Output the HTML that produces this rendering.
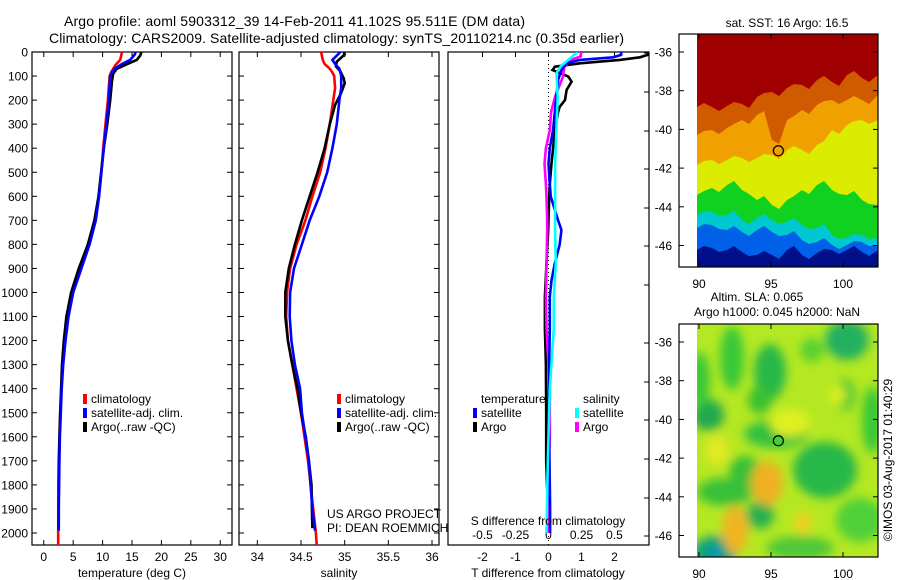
<!DOCTYPE html>
<html><head><meta charset="utf-8">
<style>
html,body{margin:0;padding:0;background:#fff;}
svg{display:block;font-family:"Liberation Sans",sans-serif;}
</style></head>
<body>
<svg id="chart" width="900" height="580" viewBox="0 0 900 580" xmlns="http://www.w3.org/2000/svg">
<defs>
<clipPath id="clipTop"><rect x="697" y="34" width="181" height="233"/></clipPath>
<clipPath id="clipBot"><rect x="697" y="324" width="181" height="233"/></clipPath>
<clipPath id="clipP3"><rect x="448" y="52" width="201" height="493"/></clipPath>
<filter id="blur" x="-50%" y="-50%" width="200%" height="200%"><feGaussianBlur stdDeviation="5"/></filter>
</defs>
</svg>
<script>
// ---------------- data ----------------
const tClimDepth = [0,33,54,82,100,200,300,400,500,600,700,800,900,1000,1100,1200,1300,1400,1500,1600,1700,1800,1900,2000,2050];
const tClim      = [13.3,13.0,12.2,11.5,11.2,10.9,10.5,10.1,9.8,9.35,8.7,7.5,6.1,4.8,4.1,3.6,3.2,3.0,2.8,2.7,2.6,2.55,2.5,2.45,2.45];
const tSatDepth  = [0,10,33,50,70,85,100,200,300,400,500,600,700,800,900,1000,1100,1200,1300,1400,1500,1600,1700,1800,1900,1990];
const tSat       = [15.6,15.5,14.7,13.3,12.0,11.6,11.3,11.05,10.65,10.2,9.8,9.4,8.85,7.8,6.4,5.0,4.2,3.7,3.3,3.05,2.9,2.75,2.65,2.6,2.55,2.55];
const tArgoDepth = [0,15,33,50,70,90,120,200,300,400,500,600,700,800,900,1000,1100,1200,1300,1400,1500,1600,1700,1800,1900,1988];
const tArgo      = [16.6,16.4,15.8,14.2,12.4,11.8,11.6,11.3,10.8,10.2,9.75,9.3,8.6,7.5,5.95,4.65,3.85,3.4,3.1,2.95,2.8,2.65,2.55,2.5,2.5,2.5];

const sClimDepth = [0,33,50,70,85,100,150,200,300,400,500,600,700,800,900,1000,1100,1200,1300,1400,1500,1600,1700,1800,1900,2000,2050];
const sClim      = [34.73,34.75,34.77,34.83,34.86,34.88,34.89,34.87,34.83,34.78,34.72,34.63,34.55,34.45,34.375,34.34,34.33,34.35,34.40,34.45,34.50,34.54,34.58,34.61,34.64,34.67,34.68];
const sSatDepth  = [0,15,33,50,70,100,150,200,300,400,500,600,700,800,900,1000,1100,1200,1300,1400,1500,1600,1700,1800,1900,1990];
const sSat       = [34.95,34.91,34.86,34.89,34.94,34.96,34.96,34.94,34.91,34.86,34.80,34.71,34.60,34.51,34.42,34.375,34.37,34.39,34.43,34.49,34.51,34.55,34.59,34.61,34.63,34.66];
const sArgoDepth = [0,10,20,40,60,80,110,130,170,220,300,400,500,600,700,800,900,1000,1100,1200,1300,1400,1500,1600,1700,1800,1900,1980];
const sArgo      = [34.99,35.0,34.97,34.91,34.90,34.95,34.99,35.0,34.96,34.89,34.83,34.77,34.69,34.60,34.51,34.43,34.36,34.32,34.32,34.35,34.40,34.46,34.50,34.555,34.59,34.62,34.625,34.63];

const dTSatDepth  = [0,12,22,33,47,75,116,186,250,324,400,463,550,602,700,740,800,879,950,1018,1150,1300,1500,1700,1900,2000];
const dTSat       = [2.2,2.2,1.96,0.95,0.55,0.39,0.29,0.24,0.19,0.14,0.04,0.0,0.04,0.07,0.29,0.39,0.34,0.19,0.09,0.04,0.04,0.02,0.0,0.03,0.05,0.05];
const dTArgoDepth = [0,12,22,33,47,61,72,75,102,123,158,200,228,250,324,400,463,550,602,740,879,1018,1150,1300,1500,1700,1850,1990];
const dTArgo      = [3.05,3.0,2.77,2.16,0.95,0.19,0.14,0.12,0.6,0.7,0.55,0.5,0.34,0.29,0.19,0.14,0.09,0.04,0.02,-0.01,-0.06,-0.11,-0.11,-0.08,-0.07,-0.07,-0.03,-0.02];
const dSSatDepth  = [0,33,61,89,186,324,463,602,740,879,1018,1150,1400,1700,2000];
const dSSat       = [0.22,0.15,0.09,0.06,0.07,0.06,0.05,0.05,0.05,0.055,0.04,0.04,0.01,-0.005,-0.015];
const dSArgoDepth = [0,19,33,61,102,130,186,250,324,400,463,550,602,700,740,879,1018,1150,1400,1600,1800,2000];
const dSArgo      = [0.25,0.24,0.17,0.12,0.11,0.09,0.05,0.02,0.01,-0.02,-0.03,-0.02,-0.015,-0.01,-0.01,-0.015,-0.02,-0.015,0.01,0.01,0.0,0.0];

const depthTicks = [0,100,200,300,400,500,600,700,800,900,1000,1100,1200,1300,1400,1500,1600,1700,1800,1900,2000];
const tempTicks = [0,5,10,15,20,25,30];
const salTicks = [34,34.5,35,35.5,36];
const salTickLabels = ["34","34.5","35","35.5","36"];
const dTTicks = [-2,-1,0,1,2];
const dSTicks = [-0.5,-0.25,0,0.25,0.5];
const dSTickLabels = ["-0.5","-0.25","0","0.25","0.5"];
const latTicks = [-36,-38,-40,-42,-44,-46];
const lonTicks = [90,95,100];
const argoLon = 95.511, argoLat = -41.102;

// ---------------- scales ----------------
const yD = d => 52 + d * 0.2405;
const xT = t => 32 + (t - (-2)) * (200 / 34);
const xS = s => 239 + (s - 33.79) * (200 / 2.29);
const xdT = v => 548.5 + v * 33;
const xdS = v => 548.5 + v * 132;
const mapX = lon => 699 + (lon - 90) * 14.4;
const mapYTop = lat => 52 + (-36 - lat) * 19.35;
const mapYBot = lat => 342 + (-36 - lat) * 19.35;

const NS = "http://www.w3.org/2000/svg";
const svg = document.getElementById('chart');
function mk(tag, attrs, parent) {
  const e = document.createElementNS(NS, tag);
  for (const k in attrs) e.setAttribute(k, attrs[k]);
  (parent || svg).appendChild(e);
  return e;
}
function txt(str, x, y, size, anchor, parent) {
  const t = mk('text', {x: x, y: y, 'font-size': size, 'text-anchor': anchor || 'middle', fill: '#000'}, parent);
  t.textContent = str;
  return t;
}
function stepPath(xs, ds, xf) {
  let p = '';
  for (let i = 0; i < xs.length; i++) {
    const x = xf(xs[i]).toFixed(1), y = yD(ds[i]).toFixed(1);
    p += (i ? 'L' : 'M') + x + ' ' + y;
  }
  return p;
}

// ---------------- titles ----------------
let t1 = txt('Argo profile: aoml 5903312_39 14-Feb-2011 41.102S 95.511E (DM data)', 64, 26, 14, 'start');
t1.setAttribute('textLength', '461');


let t2 = txt('Climatology: CARS2009. Satellite-adjusted climatology: synTS_20110214.nc (0.35d earlier)', 49, 43, 14, 'start');
t2.setAttribute('textLength', '575');



// ---------------- generic panel frame ----------------
function frame(x0, x1, name) {
  const g = mk('g', {});
  
  
  const r = mk('rect', {x: x0, y: 52, width: x1 - x0, height: 493, fill: 'none', stroke: '#000', 'stroke-width': 1.2}, g);
  
  
  return g;
}
function depthTickMarks(g, x0, x1, labels) {
  depthTicks.forEach(d => {
    const y = yD(d);
    mk('line', {x1: x0, y1: y, x2: x0 + 5, y2: y, stroke: '#000'}, g);
    mk('line', {x1: x1, y1: y, x2: x1 - 5, y2: y, stroke: '#000'}, g);
    if (labels) {
      const l = txt(String(d), 28, y + 4.5, 12, 'end', g);
      
      
    }
  });
}
function xTickMarks(g, vals, f, labels, ylab) {
  vals.forEach((v, i) => {
    const x = f(v);
    mk('line', {x1: x, y1: 52, x2: x, y2: 57, stroke: '#000'}, g);
    mk('line', {x1: x, y1: 545, x2: x, y2: 540, stroke: '#000'}, g);
    const l = txt(labels ? labels[i] : String(v), x, ylab, 12, 'middle', g);
    
    
  });
}
function series(g, xs, ds, xf, color, name, clip) {
  const p = mk('path', {d: stepPath(xs, ds, xf), fill: 'none', stroke: color, 'stroke-width': 2.6, 'stroke-linejoin': 'miter'}, g);
  if (clip) p.setAttribute('clip-path', 'url(#clipP3)');
  
  
}
function legend(g, x, y, items) {
  items.forEach((it, i) => {
    const yy = y + i * 14;
    const m = mk('rect', {x: x, y: yy - 9, width: 4, height: 10, fill: it[1]}, g);
    
    
    const l = txt(it[0], x + 8, yy, 12, 'start', g);
    
    
  });
}

// ---------------- panel 1: temperature ----------------
const g1 = frame(32, 232, 'temperature-panel');
depthTickMarks(g1, 32, 232, true);
xTickMarks(g1, tempTicks, xT, null, 561);
series(g1, tClim, tClimDepth, xT, '#ff0000', 'temp-climatology-line');
series(g1, tArgo, tArgoDepth, xT, '#000000', 'temp-argo-line');
series(g1, tSat, tSatDepth, xT, '#0000ff', 'temp-satellite-line');
legend(g1, 83, 403, [['climatology', '#ff0000'], ['satellite-adj. clim.', '#0000ff'], ['Argo(..raw -QC)', '#000000']]);
let xt1 = txt('temperature (deg C)', 132, 577, 12);



// ---------------- panel 2: salinity ----------------
const g2 = frame(239, 439, 'salinity-panel');
depthTickMarks(g2, 239, 439, false);
xTickMarks(g2, salTicks, xS, salTickLabels, 561);
series(g2, sClim, sClimDepth, xS, '#ff0000', 'sal-climatology-line');
series(g2, sArgo, sArgoDepth, xS, '#000000', 'sal-argo-line');
series(g2, sSat, sSatDepth, xS, '#0000ff', 'sal-satellite-line');
legend(g2, 337, 403, [['climatology', '#ff0000'], ['satellite-adj. clim.', '#0000ff'], ['Argo(..raw -QC)', '#000000']]);
let xt2 = txt('salinity', 339, 577, 12);


let cr1 = txt('US ARGO PROJECT', 327, 518, 12, 'start');


let cr2 = txt('PI: DEAN ROEMMICH', 327, 532, 12, 'start');



// ---------------- panel 3: differences ----------------
const g3 = frame(448, 649, 'difference-panel');
const zl = mk('line', {x1: xdT(0), y1: 52, x2: xdT(0), y2: 545, stroke: '#000', 'stroke-dasharray': '1,3'}, g3);


dTTicks.forEach(v => {
  const x = xdT(v);
  mk('line', {x1: x, y1: 52, x2: x, y2: 57, stroke: '#000'}, g3);
  const l = txt(String(v), x, 561, 12, 'middle', g3);
  
  
});
dSTicks.forEach((v, i) => {
  const l = txt(dSTickLabels[i], xdS(v), 539, 12, 'middle', g3);
  
  
});
[53,92,131,169,208,246,285,343,382,420,459,498,536].forEach(y => {
  mk('line', {x1: 649, y1: y, x2: 644, y2: y, stroke: '#000'}, g3);
});
series(g3, dTArgo, dTArgoDepth, xdT, '#000000', 'tdiff-argo-line', true);
series(g3, dSArgo, dSArgoDepth, xdS, '#ff00ff', 'sdiff-argo-line', true);
series(g3, dTSat, dTSatDepth, xdT, '#0000ff', 'tdiff-satellite-line', true);
series(g3, dSSat, dSSatDepth, xdS, '#00ffff', 'sdiff-satellite-line', true);
let lt = txt('temperature', 481, 403, 12, 'start', g3);


let ls = txt('salinity', 583, 403, 12, 'start', g3);


legend(g3, 473, 417, [['satellite', '#0000ff'], ['Argo', '#000000']]);
legend(g3, 575, 417, [['satellite', '#00ffff'], ['Argo', '#ff00ff']]);
let sd = txt('S difference from climatology', 548, 525, 12);


let td = txt('T difference from climatology', 548, 577, 12);



// ---------------- maps ----------------
const mxs = [697,712,727,742,757,772,787,802,817,832,847,862,878];
const sstBands = [
  ['#a00000', [107,107,106,104,97,92,88,85,80,82,75,78,75]],
  ['#d05a00', [135,130,128,120,115,140,120,110,105,100,100,100,95]],
  ['#f0a000', [165,160,160,158,158,155,150,150,145,130,125,120,120]],
  ['#dcec00', [195,188,185,190,200,205,200,190,185,190,195,200,205]],
  ['#10d020', [215,212,215,220,218,220,222,225,228,235,238,235,238]],
  ['#00c8d0', [228,225,230,232,230,232,235,240,242,245,245,242,245]],
  ['#0060e8', [250,248,250,252,255,255,250,255,253,250,250,252,250]]
];
function mapFrame(y0, name) {
  const g = mk('g', {});
  
  
  return g;
}
// top SST map
const gm1 = mapFrame(34, 'sst-map');
const bgTop = mk('rect', {x: 697, y: 34, width: 181, height: 233, fill: '#00108a'}, gm1);


const gTopC = mk('g', {'clip-path': 'url(#clipTop)'}, gm1);
for (let b = sstBands.length - 1; b >= 0; b--) {
  const ys = sstBands[b][1];
  let pts = '697,34 ';
  mxs.forEach((x, i) => { pts += x + ',' + ys[i] + ' '; if (i < mxs.length - 1) pts += (x + 7) + ',' + (ys[i] + ((i % 2) ? 4 : -4)) + ' '; });
  pts += '878,34';
  const pg = mk('polygon', {points: pts, fill: sstBands[b][0]}, gTopC);
  
  
}
const sstT = txt('sat. SST: 16 Argo: 16.5', 787, 27, 12);



// bottom SLA map
const gm2 = mapFrame(324, 'sla-map');
const bgBot = mk('rect', {x: 697, y: 324, width: 181, height: 233, fill: '#b4e822'}, gm2);


const gBotC = mk('g', {'clip-path': 'url(#clipBot)'}, gm2);
const gBlur = mk('g', {filter: 'url(#blur)'}, gBotC);
const blobs = [
  [847,340,22,20,'#22b060'],[770,372,16,28,'#28b848'],[732,358,12,32,'#38c838'],[708,415,16,16,'#20a850'],
  [776,434,32,14,'#30c040'],[825,470,32,28,'#28b848'],[725,492,28,14,'#38c038'],[760,515,14,14,'#28b050'],
  [715,552,22,16,'#10a080'],[872,420,10,34,'#38c838'],[812,350,12,12,'#58d030'],[700,380,10,28,'#38c838'],
  [760,400,12,14,'#38c030'],[860,520,24,22,'#50d038'],[800,548,34,12,'#50c838'],[745,470,16,14,'#38c038'],
  [845,395,10,16,'#48c838'],
  [767,483,16,22,'#f0b020'],[735,530,13,24,'#f0b420'],[803,523,9,11,'#f0d020'],[790,423,20,14,'#e0f020'],
  [717,450,12,15,'#e4e820'],[838,395,8,10,'#d8f020']
];
blobs.forEach(b => {
  const e = mk('ellipse', {cx: b[0], cy: b[1], rx: b[2], ry: b[3], fill: b[4]}, gBlur);
  
  
});
const blueSpot = mk('circle', {cx: 715, cy: 554, r: 5, fill: '#1090f0', filter: 'url(#blur)'}, gBotC);


const slaT1 = txt('Altim. SLA: 0.065', 757, 301, 12);


const slaT2 = txt('Argo h1000: 0.045 h2000: NaN', 777, 316, 12);



// map axes
[[gm1, 34, mapYTop, 'sst'], [gm2, 324, mapYBot, 'sla']].forEach(([g, y0, yf, nm]) => {
  const fr = mk('rect', {x: 679, y: y0, width: 199, height: 233, fill: 'none', stroke: '#000', 'stroke-width': 1.2}, g);
  
  
  latTicks.forEach(lat => {
    const y = yf(lat);
    mk('line', {x1: 679, y1: y, x2: 684, y2: y, stroke: '#000'}, g);
    mk('line', {x1: 878, y1: y, x2: 873, y2: y, stroke: '#000'}, g);
    const l = txt(String(lat), 672, y + 4.5, 12, 'end', g);
    
    
  });
  lonTicks.forEach(lon => {
    const x = mapX(lon);
    mk('line', {x1: x, y1: y0, x2: x, y2: y0 + 5, stroke: '#000'}, g);
    mk('line', {x1: x, y1: y0 + 233, x2: x, y2: y0 + 228, stroke: '#000'}, g);
    const l = txt(String(lon), x, y0 + 254, 12, 'middle', g);
    
    
  });
  const c = mk('circle', {cx: mapX(argoLon), cy: yf(argoLat), r: 5, fill: nm === 'sla' ? '#44d030' : 'none', stroke: '#000', 'stroke-width': 1.2}, g);
  
  
});

const cp = txt('\u00A9IMOS 03-Aug-2017 01:40:29', 0, 0, 12);
cp.setAttribute('transform', 'translate(892,460) rotate(-90)');


</script>
</body></html>
